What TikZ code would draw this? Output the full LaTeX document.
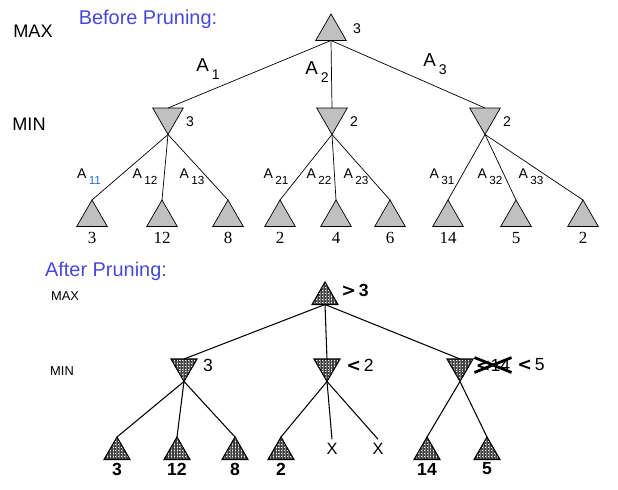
\documentclass[tikz,border=0pt]{standalone}
\usepackage{fontspec}
\setmainfont{Liberation Sans}
\newfontfamily\leaffont{Liberation Serif}
\newfontfamily\wedgefont{DejaVu Sans}
\usetikzlibrary{shapes.geometric, patterns.meta}
\definecolor{cblue}{HTML}{4848D8}
\definecolor{csub}{HTML}{2A6FD0}
\definecolor{tgray}{HTML}{C0C0C0}
\newcommand{\fsz}[1]{\fontsize{#1}{#1}\selectfont}
\newcommand{\bigA}[1]{A\,\raisebox{-0.75ex}{\fsz{12}#1}}
\newcommand{\smallA}[1]{A\,\raisebox{-0.8ex}{\fsz{10}#1}}
\newcommand{\boundmark}[1]{{\wedgefont\bfseries\fsz{15}#1}}

\begin{document}
\begin{tikzpicture}[x=0.3mm, y=-0.3mm,
  tri/.style={regular polygon, regular polygon sides=3, draw, inner sep=0pt, outer sep=0pt},
  maxtri/.style={tri, fill=tgray, line width=0.6pt, minimum size=10.6mm},
  mintri/.style={maxtri, shape border rotate=180},
  maxdot/.style={tri, line width=0.9pt, minimum size=9mm, preaction={fill=white},
    pattern={Hatch[distance=1.3pt, line width=0.35pt]}, pattern color=black!75},
  mindot/.style={maxdot, shape border rotate=180},
  branch/.style={line width=0.6pt},
  dotbranch/.style={line width=0.9pt},
  heading/.style={cblue, font=\fsz{17}},
  leafnum/.style={font=\leaffont\fsz{14.5}},
  boldnum/.style={font=\bfseries\fsz{15}},
  vallbl/.style={font=\fsz{12}},
  bound/.style={font=\fsz{15}}]
  \useasboundingbox (0,0) rectangle (618,489);

  % ---- before pruning
  \node[heading] (hbefore) at (148,19) {Before Pruning:};
  \node[font=\fsz{15.5}] (maxa) at (33,31) {MAX};
  \node[font=\fsz{15.5}] (mina) at (29,124) {MIN};

  \node[maxtri, anchor=north] (root) at (331,14) {};
  \node[vallbl] (vroot) at (357,29) {3};
  \foreach \i/\x/\v in {1/168/3, 2/332/2, 3/485/2}{
    \node[mintri, anchor=north] (m\i) at (\x,108) {};
    \node[vallbl] (vm\i) at (\x+22,122) {\v};
    \draw[branch] (root.south) -- (m\i.north);
  }
  \node[font=\fsz{16}] (a1) at (208,69) {\bigA{1}};
  \node[font=\fsz{16}] (a2) at (317,72) {\bigA{2}};
  \node[font=\fsz{16}] (a3) at (435,64) {\bigA{3}};

  % leaves
  \foreach \n/\x/\v in {11/92/3, 12/162/12, 13/228/8, 21/280/2, 22/336/4,
                        23/390/6, 31/448/14, 32/516/5, 33/583/2}{
    \node[maxtri, anchor=north] (l\n) at (\x,200) {};
    \node[leafnum] (v\n) at (\x,238) {\v};
  }
  \foreach \i in {1,2,3}{
    \foreach \j in {1,2,3}{
      \draw[branch] (m\i.south) -- (l\i\j.north);
    }
  }
  \foreach \n/\x in {12/145, 13/192, 21/276, 22/319, 23/356, 31/442, 32/490, 33/531}{
    \node[font=\fsz{12}] (a\n) at (\x,177) {\smallA{\n}};
  }
  \node[font=\fsz{12}] (a11) at (89,177) {\smallA{\textcolor{csub}{11}}};

  % ---- after pruning
  \node[heading] (hafter) at (106,271) {After Pruning:};
  \node[font=\fsz{11}] (maxb) at (65,296) {MAX};
  \node[font=\fsz{11}] (minb) at (62,371) {MIN};

  \node[maxdot, anchor=north] (rootb) at (325,282) {};
  \node[bound] (vrootb) at (355,290) {\boundmark{>}\,\textbf{3}};
  \foreach \i/\x in {1/184, 2/327, 3/460}{
    \node[mindot, anchor=north] (n\i) at (\x,359) {};
    \draw[dotbranch] (rootb.south) -- (n\i.north);
  }
  \node[bound] (vn1) at (208,365) {3};
  \node[bound] (vn2) at (360,365) {\boundmark{<}\,2};
  \node[bound, inner sep=1pt] (vold) at (493,365) {\boundmark{<}14};
  \draw[line width=2.4pt] (vold.south west) -- (vold.north east);
  \draw[line width=2.4pt] (vold.north west) -- (vold.south east);
  \node[bound] (vn3) at (531,365) {\boundmark{<}\,5};

  % leaves after pruning
  \foreach \n/\x/\v in {11/117/3, 12/177/12, 13/235/8, 21/281/2, 31/427/14, 32/487/5}{
    \node[maxdot, anchor=north] (k\n) at (\x,437) {};
    \node[boldnum] (w\n) at (\x,469) {\v};
  }
  \node[font=\fsz{14}] (x22) at (332,449) {X};
  \node[font=\fsz{14}] (x23) at (378,449) {X};
  \foreach \a/\b in {n1/k11, n1/k12, n1/k13, n2/k21, n2/x22, n2/x23, n3/k31, n3/k32}{
    \draw[dotbranch] (\a.south) -- (\b.north);
  }
\end{tikzpicture}
\end{document}
